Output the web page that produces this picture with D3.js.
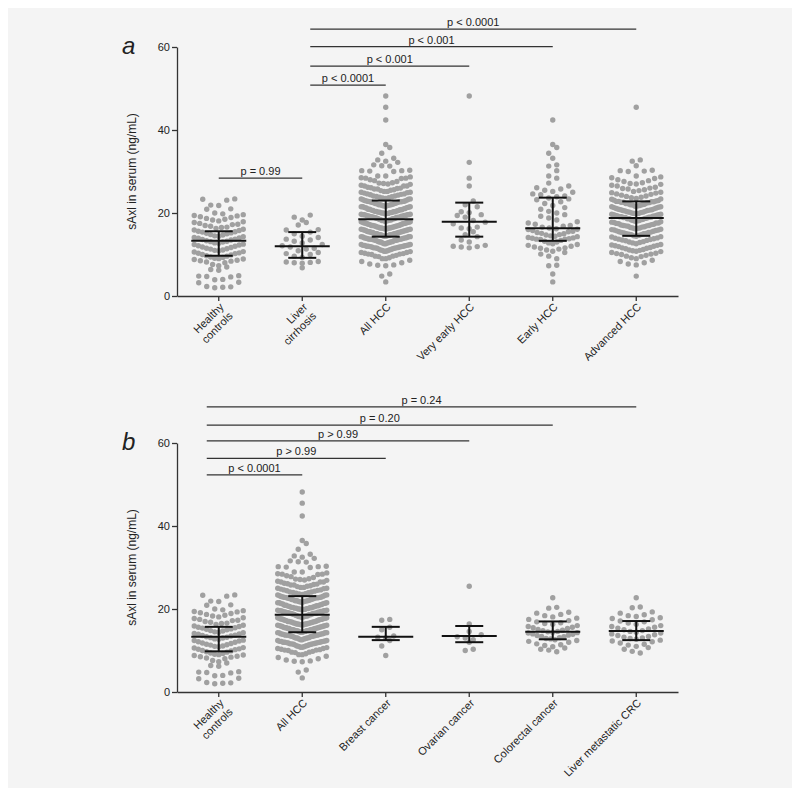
<!DOCTYPE html>
<html>
<head>
<meta charset="utf-8">
<script src="https://cdn.jsdelivr.net/npm/d3@7/dist/d3.min.js"></script>
<style>
  body { margin: 0; background: #fff; }
  text { font-family: "Liberation Sans", Arial, sans-serif; fill: #222; }
</style>
</head>
<body>
<svg id="chart" width="800" height="796"></svg>
<script>
// categories (\n = line break in the tick label)
const categoriesA = ["Healthy\ncontrols", "Liver\ncirrhosis", "All HCC", "Very early HCC", "Early HCC", "Advanced HCC"];
const categoriesB = ["Healthy\ncontrols", "All HCC", "Breast cancer", "Ovarian cancer", "Colorectal cancer", "Liver metastatic CRC"];

// sAxl (ng/mL), one value per dot
const healthyControls = [2.0, 2.1, 2.2, 2.3, 3.2, 3.3, 3.9, 4.0, 4.6, 4.7, 4.8, 4.9, 6.2, 6.4,
  7.0, 7.3, 7.6, 8.0, 8.2, 8.4, 8.5, 8.6, 8.8, 8.9, 9.0, 9.1, 9.3, 9.4, 9.6, 9.7, 9.9, 10.0,
  10.2, 10.3, 10.4, 10.6, 10.7, 10.9, 11.0, 11.1, 11.3, 11.4, 11.5, 11.7, 11.8, 12.0, 12.1,
  12.3, 12.4, 12.5, 12.7, 12.8, 13.0, 13.1, 13.2, 13.3, 13.5, 13.6, 13.7, 13.9, 14.0, 14.1,
  14.3, 14.4, 14.5, 14.7, 14.8, 15.0, 15.1, 15.2, 15.4, 15.5, 15.6, 15.8, 15.9, 16.1, 16.3,
  16.5, 16.6, 16.8, 17.0, 17.2, 17.3, 17.5, 17.7, 17.9, 18.1, 18.3, 18.5, 18.7, 18.9, 19.1,
  19.3, 19.4, 19.6, 19.8, 20.0, 20.9, 21.0, 21.8, 21.9, 23.1, 23.3, 23.4];
const liverCirrhosis = [6.8, 7.9, 8.0, 8.1, 8.2, 8.3, 9.3, 9.6, 10.0, 10.2, 10.5, 10.9, 11.3,
  11.5, 11.8, 12.1, 12.4, 12.8, 13.2, 13.5, 13.7, 14.1, 14.4, 15.0, 15.4, 15.9, 16.0, 17.1,
  17.7, 18.3, 19.0, 19.5];
const veryEarlyHcc = [11.6, 11.8, 11.9, 12.0, 12.2, 13.0, 13.5, 14.3, 14.8, 15.5, 16.2, 16.4,
  16.6, 17.4, 17.8, 18.2, 19.0, 19.4, 19.6, 20.1, 20.3, 21.5, 22.0, 22.9, 26.5, 28.4, 32.2, 48.2];
const earlyHcc = [42.4, 36.5, 35.8, 34.4, 33.2, 31.6, 31.3, 30.2, 28.9, 28.4, 27.2, 26.5, 26.1,
  25.8, 25.5, 25.2, 25.0, 24.6, 24.4, 24.1, 23.9, 23.6, 23.4, 23.2, 22.7, 22.3, 21.8, 21.3,
  20.9, 20.4, 20.0, 19.6, 19.2, 18.8, 18.3, 17.9, 17.6, 17.3, 17.0, 16.8, 16.6, 16.4, 16.2,
  16.1, 16.0, 15.8, 15.6, 15.5, 15.3, 15.1, 15.0, 14.8, 14.7, 14.5, 14.4, 14.3, 14.1, 14.0,
  13.9, 13.8, 13.7, 13.7, 13.6, 13.4, 13.2, 13.0, 12.8, 12.6, 12.4, 12.2, 12.0, 11.8, 11.6,
  11.5, 11.3, 11.1, 10.8, 10.5, 10.1, 9.6, 9.0, 7.3, 7.4, 5.3, 3.4];
const advancedHcc = [45.5, 32.8, 32.5, 31.4, 30.3, 30.2, 30.1, 30.0,
  28.9, 28.7, 28.5, 28.3, 28.0, 27.8, 27.6, 27.3, 27.1, 26.9, 26.7, 26.5, 26.2, 26.0, 25.8,
  25.6, 25.4, 25.2, 25.0, 24.8, 24.6, 24.5, 24.3, 24.1, 24.0, 23.8, 23.7, 23.5, 23.4, 23.3,
  23.1, 23.0, 22.9, 22.8, 22.8, 22.7, 22.7, 22.6, 22.6, 27.0, 25.9, 24.9,
  22.5, 22.4, 22.3, 22.2, 22.1, 22.0, 21.9, 21.8, 21.7, 21.6, 21.5, 21.4, 21.3, 21.2, 21.0,
  20.9, 20.8, 20.7, 20.6, 20.5, 20.4, 20.3, 20.2, 20.1, 20.0, 19.9, 19.8, 19.7, 19.7, 19.6,
  19.5, 19.4, 19.3, 19.3, 19.2, 19.1, 19.0, 19.0, 18.9, 18.9, 21.1, 20.6, 19.6, 19.1, 18.8,
  22.0, 21.5, 20.8, 20.2, 19.9,
  18.7, 18.6, 18.5, 18.4, 18.3, 18.2, 18.1, 18.0, 17.9, 17.8, 17.7, 17.6, 17.5, 17.4, 17.3,
  17.2, 17.1, 17.0, 16.9, 16.8, 16.7, 16.6, 16.5, 16.4, 16.3, 16.2, 16.1, 16.0, 15.9, 15.8,
  15.7, 15.6, 15.5, 15.4, 15.3, 15.2, 15.1, 15.0, 14.9, 14.8, 14.8, 18.2, 17.6, 17.0, 16.4,
  15.9, 15.3, 18.6, 16.9, 15.0,
  14.6, 14.5, 14.3, 14.2, 14.0, 13.8, 13.7, 13.5, 13.3, 13.1, 13.0, 12.8, 12.6, 12.4, 12.3,
  12.1, 11.9, 11.7, 11.6, 11.4, 11.2, 11.0, 10.9, 10.7, 10.5, 10.3, 10.1, 10.0, 9.8, 9.6,
  14.4, 13.9, 13.4, 12.9, 12.2, 11.5, 10.8, 10.2, 13.6, 12.0, 11.1, 9.5,
  9.2, 9.0, 8.6, 8.3, 8.0, 7.7, 7.5, 4.8];
const allHcc = [...veryEarlyHcc, ...earlyHcc, ...advancedHcc];
const breastCancer = [8.8, 11.1, 12.4, 13.0, 13.2, 13.5, 15.0, 15.6, 17.3, 17.5];
const ovarianCancer = [10.0, 10.3, 12.0, 12.6, 13.0, 13.3, 13.8, 14.6, 16.4, 25.5];
const colorectalCancer = [9.7, 10.1, 10.3, 10.6, 10.9, 11.2, 11.4, 11.6, 12.0, 12.2, 12.4, 12.6,
  12.8, 12.9, 13.1, 13.3, 13.4, 13.6, 13.7, 13.9, 14.0, 14.2, 14.3, 14.4, 14.5, 14.6, 14.8,
  14.9, 15.1, 15.3, 15.5, 15.6, 15.8, 16.0, 16.3, 16.5, 16.7, 16.9, 17.2, 17.5, 17.8, 18.1,
  18.4, 18.7, 19.0, 19.2, 20.2, 20.4, 22.7];
const liverMetCrc = [9.4, 9.8, 10.3, 10.7, 11.0, 11.3, 11.5, 11.8, 12.1, 12.3, 12.5, 12.7, 12.9,
  13.0, 13.2, 13.4, 13.6, 13.8, 14.0, 14.2, 14.4, 14.6, 14.8, 15.0, 15.2, 15.4, 15.6, 15.8,
  16.0, 16.3, 16.6, 16.9, 17.1, 17.4, 17.7, 17.9, 18.2, 18.4, 18.6, 19.0, 19.3, 20.3, 20.5, 22.7];

// median and interquartile range bars, as drawn
const medianA = [13.3, 12.0, 18.5, 17.9, 16.3, 18.8];
const q1A = [9.7, 9.2, 14.3, 14.3, 13.3, 14.5];
const q3A = [15.6, 15.4, 23.0, 22.5, 23.7, 22.8];
const medianB = [13.3, 18.6, 13.3, 13.5, 14.5, 14.7];
const q1B = [9.8, 14.4, 12.5, 12.0, 12.7, 12.5];
const q3B = [15.7, 23.1, 15.7, 15.9, 17.0, 17.1];

// significance brackets: from / to category index, height (ng/mL), label
const bracketFromA = [0, 1, 1, 1, 1];
const bracketToA = [1, 2, 3, 4, 5];
const bracketYA = [28.4, 50.8, 55.4, 60.1, 64.3];
const bracketLabelA = ["p = 0.99", "p < 0.0001", "p < 0.001", "p < 0.001", "p < 0.0001"];
const bracketFromB = [0, 0, 0, 0, 0];
const bracketToB = [1, 2, 3, 4, 5];
const bracketYB = [52.3, 56.3, 60.5, 64.3, 68.7];
const bracketLabelB = ["p < 0.0001", "p > 0.99", "p > 0.99", "p = 0.20", "p = 0.24"];

const yTicks = [0, 20, 40, 60];

const svg = d3.select("#chart");
svg.append("rect").attr("x", 8).attr("y", 8).attr("width", 784).attr("height", 780).attr("fill", "#f4f4f4");

const left = 177, right = 678;
const dotR = 2.7, dotGap = 8, maxSpread = 49, binH = 1.8;

function drawPanel(opts) {
  const { categories, groups, medians, q1s, q3s, bFrom, bTo, bY, bLabel, y0, letter, bracketDx } = opts;
  const g = svg.append("g");
  const x = d3.scaleBand().domain(d3.range(categories.length)).range([left, right]);
  const cx = (i) => x(i) + x.bandwidth() / 2;
  const y = d3.scaleLinear().domain([0, 60]).range([y0, y0 - 249]);

  // axes
  const yAxis = g.append("g").attr("transform", `translate(${left},0)`)
    .call(d3.axisLeft(y).tickValues(yTicks).tickSize(5).tickSizeOuter(0).tickPadding(2));
  const xAxis = g.append("g").attr("transform", `translate(0,${y0})`)
    .call(d3.axisBottom(x).tickSize(5).tickSizeOuter(0).tickFormat(""));
  [yAxis, xAxis].forEach((a) => {
    a.select(".domain").attr("stroke", "#333").attr("stroke-width", 1.3);
    a.selectAll(".tick line").attr("stroke", "#333").attr("stroke-width", 1.3);
    a.selectAll(".tick text").attr("font-size", 11).attr("fill", "#222")
      .attr("font-family", '"Liberation Sans", Arial, sans-serif');
  });

  // rotated category labels
  categories.forEach((c, i) => {
    const t = g.append("text")
      .attr("transform", `translate(${cx(i) + 3},${y0 + 9}) rotate(-45)`)
      .attr("text-anchor", "end").attr("font-size", 11);
    c.split("\n").forEach((line, k) => {
      t.append("tspan").attr("x", 0).attr("dy", k === 0 ? "0.35em" : "1.15em").text(line);
    });
  });

  // y axis title
  g.append("text")
    .attr("transform", `translate(136,${y(30)}) rotate(-90)`)
    .attr("text-anchor", "middle").attr("font-size", 12)
    .text("sAxl in serum (ng/mL)");

  // panel letter
  g.append("text").attr("x", 122).attr("y", y(60) + 7)
    .attr("font-size", 24).attr("font-style", "italic").text(letter);

  // dots, binned in rows; in each row the lowest values sit in the middle
  groups.forEach((vals, i) => {
    const bins = d3.groups(vals, (v) => Math.floor(v / binH));
    bins.forEach(([, row]) => {
      row.sort((a, b) => a - b);
      const n = row.length;
      const step = n > 1 ? Math.min(dotGap, maxSpread / (n - 1)) : 0;
      const slots = d3.range(n).map((k) => (k - (n - 1) / 2) * step);
      const order = d3.range(n).sort((a, b) => Math.abs(slots[a]) - Math.abs(slots[b]) || (a % 2) - (b % 2));
      g.append("g").selectAll("circle").data(row).join("circle")
        .attr("cx", (v, k) => cx(i) + slots[order[k]])
        .attr("cy", (v) => y(v))
        .attr("r", dotR)
        .attr("fill", "#a0a0a0");
    });
  });

  // median and IQR
  const bars = g.append("g").attr("stroke", "#111").attr("stroke-width", 2);
  medians.forEach((m, i) => {
    bars.append("line").attr("x1", cx(i) - 27.5).attr("x2", cx(i) + 27.5).attr("y1", y(m)).attr("y2", y(m));
    bars.append("line").attr("x1", cx(i) - 14).attr("x2", cx(i) + 14).attr("y1", y(q1s[i])).attr("y2", y(q1s[i]));
    bars.append("line").attr("x1", cx(i) - 14).attr("x2", cx(i) + 14).attr("y1", y(q3s[i])).attr("y2", y(q3s[i]));
    bars.append("line").attr("x1", cx(i)).attr("x2", cx(i)).attr("y1", y(q1s[i])).attr("y2", y(q3s[i]));
  });

  // significance brackets
  bLabel.forEach((lab, k) => {
    const x1 = cx(bFrom[k]) + (bFrom[k] === 0 && bTo[k] === 1 && letter === "a" ? 0 : bracketDx);
    const x2 = cx(bTo[k]);
    g.append("line").attr("x1", x1).attr("x2", x2).attr("y1", y(bY[k])).attr("y2", y(bY[k]))
      .attr("stroke", "#333").attr("stroke-width", 1.2);
    g.append("text").attr("x", (x1 + x2) / 2).attr("y", y(bY[k]) - 3)
      .attr("text-anchor", "middle").attr("font-size", 11).text(lab);
  });
}

drawPanel({
  categories: categoriesA,
  groups: [healthyControls, liverCirrhosis, allHcc, veryEarlyHcc, earlyHcc, advancedHcc],
  medians: medianA, q1s: q1A, q3s: q3A,
  bFrom: bracketFromA, bTo: bracketToA, bY: bracketYA, bLabel: bracketLabelA,
  y0: 296, letter: "a", bracketDx: 8
});
drawPanel({
  categories: categoriesB,
  groups: [healthyControls, allHcc, breastCancer, ovarianCancer, colorectalCancer, liverMetCrc],
  medians: medianB, q1s: q1B, q3s: q3B,
  bFrom: bracketFromB, bTo: bracketToB, bY: bracketYB, bLabel: bracketLabelB,
  y0: 692, letter: "b", bracketDx: -12
});
</script>
</body>
</html>
